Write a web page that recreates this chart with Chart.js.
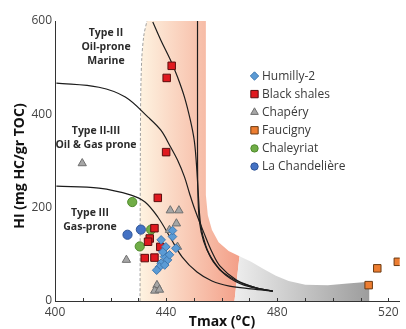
<!DOCTYPE html>
<html>
<head>
<meta charset="utf-8">
<script src="https://cdn.jsdelivr.net/npm/chart.js@4.4.1/dist/chart.umd.min.js"></script>
<style>
  html, body { margin: 0; padding: 0; background: #fff; }
  #wrap { width: 406px; height: 329px; }
</style>
</head>
<body>
<div id="wrap"><canvas id="pseudoVK" width="406" height="329"></canvas></div>
<script>
// Samples as [Tmax (°C), HI (mg HC/g TOC)]
const humilly = [[438.2,131],[439.9,116],[442.3,138],[443.5,113],[439.4,95],[440.5,88],[438.2,81],
                 [437.6,73],[441.2,99],[439.5,77],[436.6,66],[438.8,105],[442.3,151]];
const blackShales = [[442,504],[440.2,478],[440,319],[437,221],[435.8,156],[434.1,134],[433.5,127],
                     [437.9,116],[432.3,92],[435.8,93]];
const chapery = [[409.8,295],[441.5,194],[444.6,194],[443.7,166],[441.2,152],[444.1,116],[425.7,88],
                 [436.7,34],[435.9,22],[437.6,24]];
const faucigny = [[512.9,34],[516,70],[523.4,84]];
const chaleyriat = [[427.8,212],[434.6,153],[430.5,117]];
const chandeliere = [[426.1,142],[430.9,153]];

// Kerogen type boundaries
const curveII = [[400.5,467],[415.8,458],[425.3,437],[433.5,394],[438.1,366],[441.6,330],[444.1,302],
                 [446.6,266],[448.4,231],[450.4,195],[453.6,146],[456.5,105],[459.5,74],[465.3,45],
                 [472.4,28],[478.4,21]];
const curveIII = [[400.5,246],[415.8,242],[427.4,227],[432.4,212],[437,180],[441.6,135],[445.8,94],
                  [451.1,62],[456.5,43],[462.8,32],[470.6,26],[478.4,21]];
const curveOilA = [[435.2,598],[438.1,559],[441.6,516],[444.1,480],[446.6,437],[448.7,388],[450.1,345],
                   [450.8,302],[451.5,238],[452.4,165],[454.3,118],[457,84],[461.5,55],[468,34],[478.4,21]];
const curveOilB = [[451.3,600],[451.3,400],[451.4,240],[452,170],[453.5,128],[456,95],[460,64],
                   [466.5,40],[472,29],[478.4,21]];

// Shaded maturity zones and the oil window onset
const oilWindow = [[430.6,0],[430.8,409],[431.2,516],[432,570],[433.1,600],[454.3,600],[454.3,227],
                   [455,184],[456.5,152],[458.9,126],[462.5,107],[466.4,96],[464.6,0]];
const gasZone = [[466.4,96],[470.6,84],[474.9,69],[479.5,54],[484.1,43],[490.1,35],[498.2,34],
                 [505.3,37.5],[513.1,41],[513.1,0],[464.6,0]];
const oilOnset = [[430.6,0],[430.8,409],[431.2,516],[432,570],[433.1,600]];

const zoneTexts = [['Type II', 'Oil-prone', 'Marine'], ['Type II-III', 'Oil & Gas prone'], ['Type III', 'Gas-prone']];
const tmaxTicks = [400, 410, 420, 430, 440, 450, 460, 470, 480, 490, 500, 510, 520];
const tmaxLabelled = [400, 440, 480, 520];
const hiTicks = [0, 200, 400, 600];

const toXY = pts => pts.map(([x, y]) => ({ x, y }));

const curve = pts => ({
  data: toXY(pts), showLine: true, pointRadius: 0, borderColor: '#1c1c1c',
  borderWidth: 1.2, tension: 0.35, fill: false, order: 5
});

const samples = (label, pts, pointStyle, radius, keySize, bg, border) => ({
  label, keySize, data: toXY(pts), pointStyle, pointRadius: radius, backgroundColor: bg,
  borderColor: border, borderWidth: 1, showLine: false, order: 1
});

// Background zones go under the axes
const zones = {
  id: 'zones',
  beforeDraw(chart) {
    const { ctx, scales: { x, y } } = chart;
    const trace = pts => {
      ctx.beginPath();
      pts.forEach(([t, hi], i) => {
        const px = x.getPixelForValue(t), py = y.getPixelForValue(hi);
        i ? ctx.lineTo(px, py) : ctx.moveTo(px, py);
      });
      ctx.closePath();
    };
    ctx.save();
    let g = ctx.createLinearGradient(x.getPixelForValue(431), 0, x.getPixelForValue(466), 0);
    g.addColorStop(0, '#fef2e0');
    g.addColorStop(1, '#f3a089');
    ctx.fillStyle = g;
    trace(oilWindow);
    ctx.fill();
    g = ctx.createLinearGradient(x.getPixelForValue(465), 0, x.getPixelForValue(513), 0);
    g.addColorStop(0, '#ededed');
    g.addColorStop(1, '#9d9d9d');
    ctx.fillStyle = g;
    trace(gasZone);
    ctx.fill();
    ctx.restore();
  }
};

// Inward minor ticks on the Tmax axis
const minorTicks = {
  id: 'minorTicks',
  afterDraw(chart) {
    const { ctx, scales: { x } } = chart;
    ctx.save();
    ctx.strokeStyle = '#333';
    ctx.lineWidth = 1;
    tmaxTicks.forEach(v => {
      const px = Math.round(x.getPixelForValue(v)) + 0.5;
      ctx.beginPath();
      ctx.moveTo(px, x.top);
      ctx.lineTo(px, x.top - 3);
      ctx.stroke();
    });
    ctx.restore();
  }
};

// Zone names, axis titles and the sample key
const annotations = {
  id: 'annotations',
  afterDraw(chart) {
    const { ctx } = chart;
    ctx.save();
    ctx.textAlign = 'center';
    ctx.textBaseline = 'middle';
    ctx.fillStyle = '#2b2b2b';
    ctx.font = 'bold 10.5px "Open Sans"';
    [[106, 33], [96, 131], [90, 213]].forEach(([cx, cy], i) => {
      zoneTexts[i].forEach((line, j) => ctx.fillText(line, cx, cy + j * 14.2));
    });

    ctx.fillStyle = '#111';
    ctx.font = 'bold 14px "Open Sans"';
    ctx.fillText('Tmax (°C)', 222, 322);
    ctx.save();
    ctx.translate(20, 166);
    ctx.rotate(-Math.PI / 2);
    ctx.fillText('HI (mg HC/gr TOC)', 0, 0);
    ctx.restore();

    ctx.textAlign = 'left';
    ctx.font = '12px "Open Sans"';
    chart.data.datasets.filter(d => d.keySize).forEach((d, i) => {
      const cy = 76 + i * 18.1;
      ctx.fillStyle = d.backgroundColor;
      ctx.strokeStyle = d.borderColor;
      ctx.lineWidth = 1;
      Chart.helpers.drawPoint(ctx, { pointStyle: d.pointStyle, radius: d.keySize, rotation: 0, borderWidth: 1 }, 254.5, cy);
      ctx.fillStyle = '#3a3a3a';
      ctx.fillText(d.label, 262, cy + 0.5);
    });
    ctx.restore();
  }
};

new Chart(document.getElementById('pseudoVK'), {
  type: 'scatter',
  data: {
    datasets: [
      samples('Humilly-2', humilly, 'rectRot', 4.3, 4.2, '#5b9bd5', '#3f78b0'),
      samples('Black shales', blackShales, 'rect', 5.3, 5.2, '#e0191f', '#5a0e0e'),
      samples('Chapéry', chapery, 'triangle', 4.8, 4.4, '#a6a6a6', '#6f6f6f'),
      samples('Faucigny', faucigny, 'rect', 5.3, 5.2, '#ed7d31', '#6b3a12'),
      samples('Chaleyriat', chaleyriat, 'circle', 4.6, 3.7, '#70ad47', '#4f8a2c'),
      samples('La Chandelière', chandeliere, 'circle', 4.6, 3.7, '#4472c4', '#2f5597'),
      curve(curveII),
      curve(curveIII),
      curve(curveOilA),
      curve(curveOilB),
      { data: toXY(oilOnset), showLine: true, pointRadius: 0, borderColor: '#8a8a8a',
        borderWidth: 0.8, borderDash: [3, 2], tension: 0.3, fill: false, order: 6 }
    ]
  },
  options: {
    responsive: false,
    animation: false,
    devicePixelRatio: 1,
    layout: { padding: { top: 21, right: 0, bottom: 0, left: 0 } },
    plugins: { legend: { display: false }, tooltip: { enabled: false } },
    scales: {
      x: {
        type: 'linear', min: 400, max: 524.07,
        afterFit: s => { s.height = 28; },
        afterBuildTicks: s => { s.ticks = tmaxLabelled.map(value => ({ value })); },
        grid: { display: false, drawTicks: false },
        border: { color: '#333', width: 1 },
        ticks: {
          autoSkip: false, maxRotation: 0, padding: 4,
          color: '#444', font: { size: 12, family: '"Open Sans"' }
        }
      },
      y: {
        min: 0, max: 600,
        afterFit: s => { s.width = 55; },
        afterBuildTicks: s => { s.ticks = hiTicks.map(value => ({ value })); },
        grid: { display: false, drawTicks: false },
        border: { color: '#333', width: 1 },
        ticks: { padding: 3, color: '#444', font: { size: 12, family: '"Open Sans"' } }
      }
    }
  },
  plugins: [zones, minorTicks, annotations]
});
</script>
</body>
</html>
